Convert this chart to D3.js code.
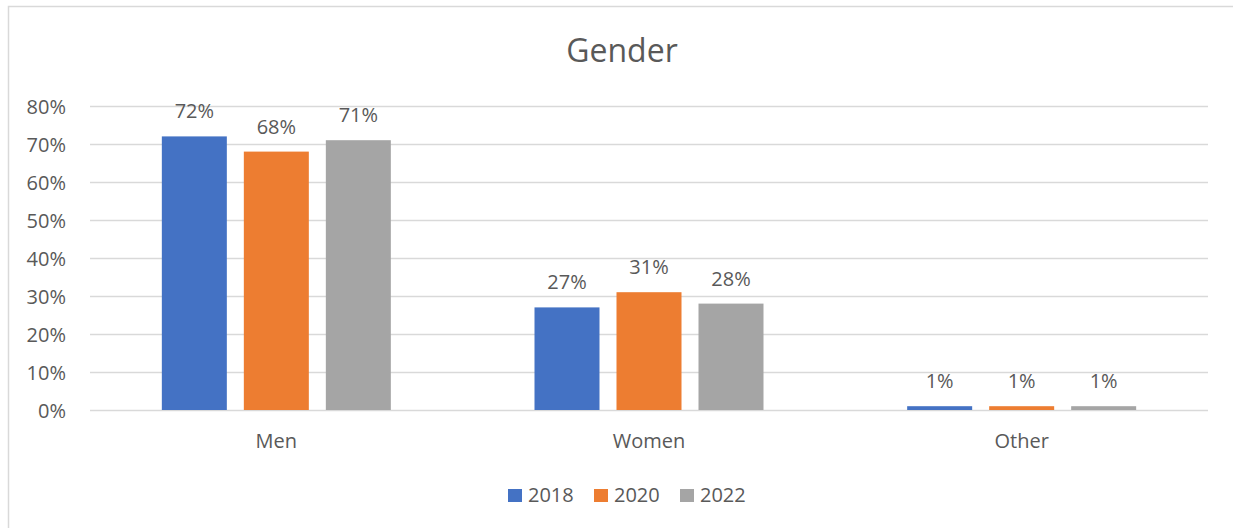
<!DOCTYPE html>
<html><head><meta charset="utf-8">
<script src="https://cdn.jsdelivr.net/npm/d3@7"></script>
<style>html,body{margin:0;padding:0;background:#fff;}svg{display:block;}</style>
</head><body><svg id="c" width="1233" height="528"></svg>
<script>
const categories = ["Men", "Women", "Other"];
const seriesNames = ["2018", "2020", "2022"];
const values2018 = [72, 27, 1];
const values2020 = [68, 31, 1];
const values2022 = [71, 28, 1];
const tickValues = [0, 10, 20, 30, 40, 50, 60, 70, 80];
const colors = ["#4472C4", "#ED7D31", "#A5A5A5"];
const title = "Gender";

const seriesValues = [values2018, values2020, values2022];
const svg = d3.select("#c");
const font = "'Open Sans', sans-serif";
const textColor = "#595959";

// chart border
svg.append("path").attr("d", "M8.5,528 L8.5,6.5 L1233,6.5")
  .attr("fill", "none").attr("stroke", "#d9d9d9").attr("stroke-width", 1.5);

const x0 = 90, x1 = 1208;
const y = d3.scaleLinear().domain([0, 80]).range([410, 106]);
const xb = d3.scaleBand().domain(categories).range([x0, x1]).paddingInner(0).paddingOuter(0);
const bw = 65, gap = 17;
const groupW = bw * 3 + gap * 2;
const xs = d3.scaleBand().domain(seriesNames).range([0, groupW]).paddingInner(gap / (bw + gap)).paddingOuter(0);

// gridlines
svg.append("g").selectAll("line").data(tickValues).join("line")
  .attr("x1", x0).attr("x2", x1)
  .attr("y1", d => Math.round(y(d)) + 0.5).attr("y2", d => Math.round(y(d)) + 0.5)
  .attr("stroke", "#d9d9d9").attr("stroke-width", 1.3);

// y axis labels
const yAxis = d3.axisLeft(y).tickValues(tickValues).tickFormat(d => d + "%").tickSize(0).tickPadding(0);
const ya = svg.append("g").attr("transform", "translate(66,0)").call(yAxis);
ya.select(".domain").remove();
ya.selectAll("text").attr("font-family", font).attr("font-size", 20).attr("fill", textColor).attr("dy", "0.35em");

// bars
const groups = svg.append("g").selectAll("g").data(categories).join("g")
  .attr("transform", d => `translate(${xb(d) + (xb.bandwidth() - groupW) / 2},0)`);
seriesNames.forEach((s, si) => {
  groups.append("rect")
    .attr("x", xs(s)).attr("width", xs.bandwidth())
    .attr("y", (d, i) => y(seriesValues[si][i]))
    .attr("height", (d, i) => y(0) - y(seriesValues[si][i]))
    .attr("fill", colors[si]);
  groups.append("text")
    .attr("x", xs(s) + xs.bandwidth() / 2)
    .attr("y", (d, i) => y(seriesValues[si][i]) - 18)
    .attr("text-anchor", "middle")
    .attr("font-family", font).attr("font-size", 20).attr("fill", textColor)
    .text((d, i) => seriesValues[si][i] + "%");
});

// x axis labels
const xAxis = d3.axisBottom(xb).tickSize(0).tickPadding(0);
const xa = svg.append("g").attr("transform", "translate(0,448)").call(xAxis);
xa.select(".domain").remove();
xa.selectAll("text").attr("font-family", font).attr("font-size", 20).attr("fill", textColor).attr("dy", 0);

// title
svg.append("text").attr("x", 622).attr("y", 62).attr("text-anchor", "middle")
  .attr("font-family", font).attr("font-size", 32).attr("fill", textColor).text(title);

// legend
const legendX = [508, 594, 680];
const lg = svg.append("g").selectAll("g").data(seriesNames).join("g")
  .attr("transform", (d, i) => `translate(${legendX[i]},489)`);
lg.append("rect").attr("width", 14).attr("height", 13).attr("fill", (d, i) => colors[i]);
lg.append("text").attr("x", 20).attr("y", 13)
  .attr("font-family", font).attr("font-size", 20).attr("fill", textColor).text(d => d);
</script></body></html>
